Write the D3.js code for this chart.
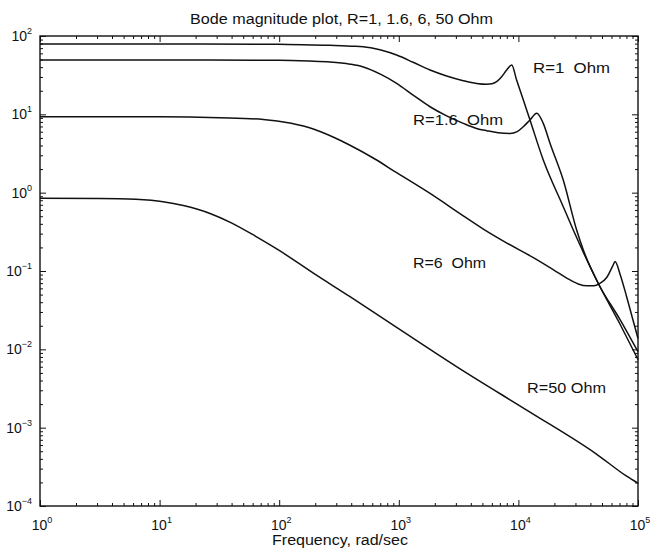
<!DOCTYPE html>
<html>
<head>
<meta charset="utf-8">
<script src="https://cdn.jsdelivr.net/npm/d3@7"></script>
<style>
  html, body { margin: 0; padding: 0; background: #fff; }
  svg { display: block; }
  text { font-family: "Liberation Sans", Arial, Helvetica, sans-serif; fill: #111; }
</style>
</head>
<body>
<svg id="chart" width="650" height="551"></svg>
<script>
// ---------- data ----------
const titleText = "Bode magnitude plot, R=1, 1.6, 6, 50 Ohm";
const xLabelText = "Frequency, rad/sec";

const xTickExponents = [0, 1, 2, 3, 4, 5];
const yTickExponents = [-4, -3, -2, -1, 0, 1, 2];

// R = 1 Ohm
const r1Freq = [1, 10, 100, 158, 266, 398, 505, 708, 959, 1318, 1824, 2512, 3459, 4467, 5433, 6026, 6577, 7244, 7980, 8790, 9661, 10965, 12503, 16144, 23714, 28774, 46345, 70795, 100000];
const r1Mag  = [79.1, 79.1, 78.2, 77.6, 76.2, 74.1, 73.1, 66.1, 57.1, 46.2, 36.8, 30.9, 26.9, 24.8, 24.2, 24.5, 26.1, 30.2, 36.8, 42.7, 27.4, 15.5, 8.47, 2.61, 0.662, 0.333, 0.0703, 0.0209, 0.00741];

// R = 1.6 Ohm
const r16Freq = [1, 10, 100, 178, 266, 391, 505, 708, 959, 1318, 1824, 2512, 3459, 4467, 5433, 6761, 8511, 9772, 10990, 12500, 14220, 16140, 18370, 23710, 30690, 34910, 46340, 70795, 100000];
const r16Mag  = [49.4, 49.4, 49.0, 47.9, 46.6, 43.7, 40.3, 32.4, 24.9, 17.6, 12.5, 9.55, 7.67, 6.61, 6.18, 5.82, 5.71, 6.03, 6.95, 8.47, 10.3, 7.67, 4.27, 1.45, 0.333, 0.185, 0.0703, 0.024, 0.00933];

// R = 6 Ohm
const r6Freq = [1, 10, 31.6, 73.6, 126, 193, 282, 391, 631, 959, 1824, 3459, 5093, 7943, 13340, 19950, 25350, 31620, 37240, 42660, 48080, 54950, 61660, 64270, 70795, 80350, 89130, 100000];
const r6Mag  = [9.33, 9.29, 9.04, 8.61, 7.67, 6.49, 5.13, 4.03, 2.69, 1.80, 0.977, 0.507, 0.343, 0.229, 0.148, 0.102, 0.0813, 0.0684, 0.0646, 0.0646, 0.0697, 0.0832, 0.117, 0.132, 0.0912, 0.047, 0.0263, 0.0138];

// R = 50 Ohm
const r50Freq = [1, 3.16, 6.31, 10.7, 15.8, 26.4, 39.8, 63.1, 100, 193, 391, 959, 3459, 12500, 45190, 80350, 100000];
const r50Mag  = [0.851, 0.845, 0.822, 0.766, 0.684, 0.542, 0.412, 0.279, 0.183, 0.0938, 0.047, 0.0191, 0.00531, 0.00158, 0.000457, 0.00024, 0.000195];

const seriesNames = ["R=1  Ohm", "R=1.6  Ohm", "R=6  Ohm", "R=50 Ohm"];
const seriesFreqs = [r1Freq, r16Freq, r6Freq, r50Freq];
const seriesMags  = [r1Mag, r16Mag, r6Mag, r50Mag];
// label anchor (frequency, magnitude) for each series label (left end, baseline)
const labelFreq = [13250, 1315, 1315, 11800];
const labelMag  = [33.7, 7.31, 0.109, 0.00277];

// ---------- layout ----------
const svg = d3.select("#chart");
const L = 40, R = 638, T = 36, B = 506;
const x = d3.scaleLog().domain([1, 1e5]).range([L, R]);
const y = d3.scaleLog().domain([1e-4, 1e2]).range([B, T]);

const ink = "#111";

function minorTicks(lo, hi) {
  const out = [];
  for (let e = lo; e < hi; e++) for (let m = 2; m <= 9; m++) out.push(m * Math.pow(10, e));
  return out;
}
const xMajor = xTickExponents.map(e => Math.pow(10, e));
const yMajor = yTickExponents.map(e => Math.pow(10, e));
const xMinor = minorTicks(0, 5);
const yMinor = minorTicks(-4, 2);

function drawAxis(gen, tx, ty, vals, size) {
  const g = svg.append("g").attr("transform", `translate(${tx},${ty})`)
    .call(gen.tickValues(vals).tickSize(size).tickFormat(""));
  g.select(".domain").remove();
  g.selectAll(".tick line").attr("stroke", ink).attr("stroke-width", 1);
}
const MAJ = -6, MIN = -3;
drawAxis(d3.axisBottom(x), 0, B, xMinor, MIN);
drawAxis(d3.axisBottom(x), 0, B, xMajor, MAJ);
drawAxis(d3.axisTop(x), 0, T, xMinor, MIN);
drawAxis(d3.axisTop(x), 0, T, xMajor, MAJ);
drawAxis(d3.axisLeft(y), L, 0, yMinor, MIN);
drawAxis(d3.axisLeft(y), L, 0, yMajor, MAJ);
drawAxis(d3.axisRight(y), R, 0, yMinor, MIN);
drawAxis(d3.axisRight(y), R, 0, yMajor, MAJ);

svg.append("rect").attr("x", L).attr("y", T).attr("width", R - L).attr("height", B - T)
  .attr("fill", "none").attr("stroke", ink).attr("stroke-width", 1.4);

// tick labels
const xl = svg.append("g");
xTickExponents.forEach(e => {
  const t = xl.append("text").attr("x", x(Math.pow(10, e)) + 2).attr("y", B + 24)
    .attr("text-anchor", "middle").attr("font-size", 14);
  t.append("tspan").text("10");
  t.append("tspan").attr("font-size", 9).attr("dy", -7).text(String(e));
});
const yl = svg.append("g");
yTickExponents.forEach(e => {
  const t = yl.append("text").attr("x", 32).attr("y", y(Math.pow(10, e)) + 5)
    .attr("text-anchor", "end").attr("font-size", 14);
  t.append("tspan").text("10");
  t.append("tspan").attr("font-size", 9).attr("dy", -7).text(e < 0 ? "\u2212" + Math.abs(e) : String(e));
});

// curves
const line = d3.line()
  .x(d => x(d[0]))
  .y(d => y(d[1]))
  .curve(d3.curveMonotoneX);

const plot = svg.append("g");
seriesFreqs.forEach((fs, i) => {
  const pts = fs.map((f, j) => [f, seriesMags[i][j]]);
  plot.append("path").attr("d", line(pts))
    .attr("fill", "none").attr("stroke", ink).attr("stroke-width", 1.5)
    .attr("stroke-linejoin", "round");
});

// series labels
const labelWidths = [77, 90, 73, 79];
seriesNames.forEach((n, i) => {
  svg.append("text").attr("x", x(labelFreq[i])).attr("y", y(labelMag[i]))
    .attr("font-size", 14).attr("xml:space", "preserve").style("white-space", "pre")
    .attr("textLength", labelWidths[i]).attr("lengthAdjust", "spacingAndGlyphs")
    .text(n);
});

// title and x label
svg.append("text").attr("x", 190).attr("y", 24)
  .attr("font-size", 14).attr("textLength", 303).attr("lengthAdjust", "spacingAndGlyphs")
  .text(titleText);
svg.append("text").attr("x", 272).attr("y", 545)
  .attr("font-size", 14).attr("textLength", 136).attr("lengthAdjust", "spacingAndGlyphs")
  .text(xLabelText);
</script>
</body>
</html>
